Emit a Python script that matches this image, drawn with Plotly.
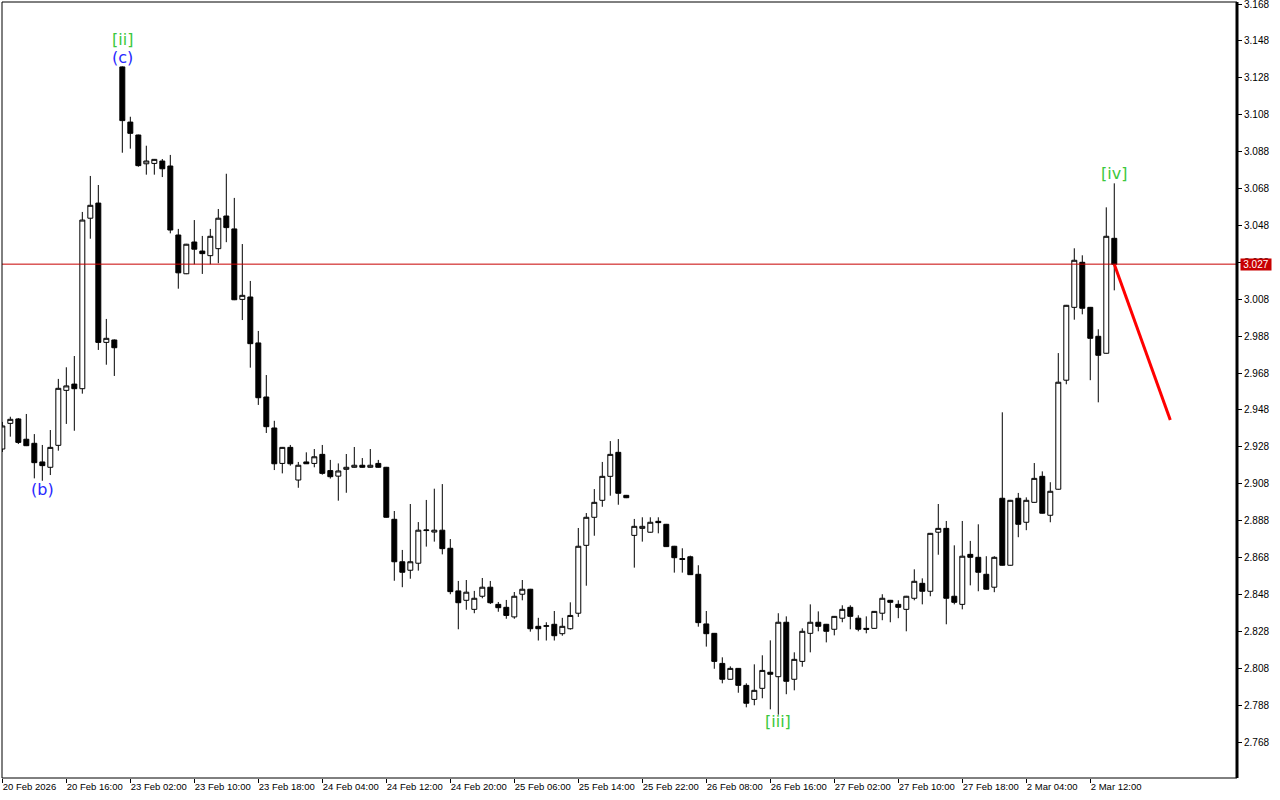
import plotly.graph_objects as go

# ---- data (H1 bars) ----
opens = [2.9268, 2.9407, 2.9431, 2.9321, 2.9299, 2.9198, 2.9169, 2.9288, 2.9586, 2.9620,
         2.9595, 3.0519, 3.0601, 2.9846, 2.9859, 3.1339, 3.1040, 3.0970, 3.0814, 3.0816,
         3.0829, 3.0802, 3.0428, 3.0218, 3.0390, 3.0341, 3.0316, 3.0354, 3.0531, 3.0461,
         3.0079, 3.0092, 2.9843, 2.9550, 2.9382, 2.9190, 2.9277, 2.9100, 2.9198, 2.9190,
         2.9239, 2.9151, 2.9121, 2.9158, 2.9169, 2.9180, 2.9169, 2.9190, 2.9169, 2.8887,
         2.8657, 2.8611, 2.8649, 2.8826, 2.8818, 2.8828, 2.8730, 2.8499, 2.8448, 2.8399,
         2.8470, 2.8519, 2.8426, 2.8410, 2.8358, 2.8481, 2.8508, 2.8307, 2.8307, 2.8318,
         2.8267, 2.8294, 2.8378, 2.8746, 2.8898, 2.8990, 2.9120, 2.9250, 2.9017, 2.8800,
         2.8838, 2.8817, 2.8876, 2.8860, 2.8741, 2.8674, 2.8684, 2.8589, 2.8320, 2.8269,
         2.8106, 2.8020, 2.8079, 2.7987, 2.7911, 2.7971, 2.8058, 2.8034, 2.8329, 2.8020,
         2.8117, 2.8269, 2.8329, 2.8318, 2.8291, 2.8351, 2.8410, 2.8351, 2.8296, 2.8296,
         2.8378, 2.8448, 2.8426, 2.8399, 2.8459, 2.8540, 2.8497, 2.8817, 2.8838, 2.8470,
         2.8426, 2.8697, 2.8681, 2.8589, 2.8519, 2.9001, 2.8638, 2.9001, 2.8871, 2.8979,
         2.9120, 2.8909, 2.9050, 2.9641, 3.0036, 3.0280, 3.0036, 2.9879, 2.9787, 3.0410]
highs = [2.9415, 2.9443, 2.9436, 2.9458, 2.9349, 2.9290, 2.9371, 2.9648, 2.9711, 2.9772,
         3.0553, 3.0748, 3.0699, 2.9973, 2.9862, 3.1342, 3.1069, 3.0972, 3.0912, 3.0840,
         3.0840, 3.0862, 3.0461, 3.0380, 3.0509, 3.0423, 3.0461, 3.0569, 3.0760, 3.0629,
         3.0379, 3.0179, 2.9908, 2.9669, 2.9421, 2.9279, 2.9290, 2.9198, 2.9250, 2.9268,
         2.9290, 2.9209, 2.9190, 2.9241, 2.9279, 2.9219, 2.9268, 2.9209, 2.9171, 2.8932,
         2.8721, 2.8970, 2.8872, 2.8992, 2.9053, 2.9078, 2.8780, 2.8553, 2.8558, 2.8499,
         2.8569, 2.8553, 2.8439, 2.8450, 2.8493, 2.8558, 2.8510, 2.8353, 2.8329, 2.8390,
         2.8353, 2.8437, 2.8840, 2.8921, 2.9051, 2.9198, 2.9311, 2.9322, 2.9019, 2.8889,
         2.8898, 2.8898, 2.8898, 2.8862, 2.8743, 2.8730, 2.8690, 2.8638, 2.8390, 2.8271,
         2.8139, 2.8090, 2.8081, 2.7998, 2.8101, 2.8150, 2.8231, 2.8378, 2.8361, 2.8166,
         2.8296, 2.8426, 2.8388, 2.8320, 2.8363, 2.8421, 2.8421, 2.8367, 2.8361, 2.8390,
         2.8481, 2.8450, 2.8448, 2.8472, 2.8616, 2.8567, 2.8813, 2.8970, 2.8878, 2.8746,
         2.8878, 2.8770, 2.8860, 2.8687, 2.8687, 2.9467, 2.8992, 2.9030, 2.9006, 2.9192,
         2.9147, 2.9088, 2.9788, 3.0049, 3.0356, 3.0318, 3.0038, 2.9917, 3.0578, 3.0708]
lows = [2.9252, 2.9335, 2.9295, 2.9284, 2.9109, 2.9096, 2.9127, 2.9259, 2.9404, 2.9367,
        2.9568, 3.0408, 2.9805, 2.9725, 2.9664, 3.0874, 3.0896, 3.0798, 3.0755, 3.0755,
        3.0742, 3.0437, 3.0137, 3.0216, 3.0269, 3.0217, 3.0269, 3.0275, 3.0389, 3.0075,
        2.9967, 2.9709, 2.9507, 2.9355, 2.9154, 2.9136, 2.9178, 2.9058, 2.9187, 2.9169,
        2.9129, 2.9108, 2.8988, 2.9031, 2.9167, 2.9167, 2.9167, 2.9167, 2.8896, 2.8554,
        2.8519, 2.8565, 2.8609, 2.8739, 2.8766, 2.8697, 2.8481, 2.8291, 2.8397, 2.8378,
        2.8459, 2.8428, 2.8386, 2.8348, 2.8348, 2.8448, 2.8278, 2.8230, 2.8230, 2.8230,
        2.8256, 2.8289, 2.8358, 2.8527, 2.8798, 2.8955, 2.9015, 2.8966, 2.9002, 2.8625,
        2.8766, 2.8815, 2.8811, 2.8737, 2.8598, 2.8598, 2.8585, 2.8305, 2.8197, 2.8077,
        2.7998, 2.8018, 2.7947, 2.7868, 2.7879, 2.7917, 2.7857, 2.7828, 2.7939, 2.7960,
        2.8088, 2.8166, 2.8280, 2.8220, 2.8258, 2.8329, 2.8291, 2.8280, 2.8269, 2.8294,
        2.8340, 2.8329, 2.8351, 2.8280, 2.8448, 2.8426, 2.8470, 2.8695, 2.8318, 2.8426,
        2.8399, 2.8529, 2.8497, 2.8506, 2.8492, 2.8636, 2.8636, 2.8790, 2.8828, 2.8977,
        2.8918, 2.8871, 2.9048, 2.9619, 2.9969, 2.9998, 2.9641, 2.9521, 2.9785, 3.0128]
closes = [2.9393, 2.9429, 2.9304, 2.9286, 2.9194, 2.9178, 2.9277, 2.9597, 2.9610, 2.9595,
          3.0509, 3.0589, 2.9846, 2.9868, 2.9817, 3.1048, 3.0979, 3.0804, 3.0829, 3.0838,
          3.0787, 3.0455, 3.0223, 3.0378, 3.0351, 3.0327, 3.0421, 3.0519, 3.0468, 3.0077,
          3.0101, 2.9839, 2.9546, 2.9389, 2.9188, 2.9277, 2.9188, 2.9180, 2.9188, 2.9226,
          2.9136, 2.9118, 2.9149, 2.9169, 2.9180, 2.9169, 2.9180, 2.9169, 2.8898, 2.8657,
          2.8600, 2.8657, 2.8828, 2.8829, 2.8828, 2.8728, 2.8495, 2.8435, 2.8492, 2.8459,
          2.8519, 2.8435, 2.8408, 2.8366, 2.8470, 2.8508, 2.8294, 2.8294, 2.8310, 2.8256,
          2.8307, 2.8366, 2.8741, 2.8898, 2.8979, 2.9120, 2.9239, 2.9028, 2.9004, 2.8849,
          2.8849, 2.8871, 2.8869, 2.8739, 2.8679, 2.8670, 2.8587, 2.8327, 2.8267, 2.8117,
          2.8020, 2.8079, 2.7987, 2.7890, 2.7960, 2.8068, 2.8047, 2.8329, 2.8009, 2.8128,
          2.8280, 2.8329, 2.8307, 2.8280, 2.8361, 2.8399, 2.8361, 2.8291, 2.8291, 2.8388,
          2.8459, 2.8437, 2.8410, 2.8470, 2.8551, 2.8497, 2.8811, 2.8838, 2.8459, 2.8437,
          2.8687, 2.8681, 2.8600, 2.8508, 2.8681, 2.8638, 2.8990, 2.8860, 2.8990, 2.9109,
          2.8920, 2.9039, 2.9630, 3.0047, 3.0291, 3.0031, 2.9868, 2.9776, 3.0421, 3.0269]
bars = list(range(len(opens)))

tick_bars = [0, 8, 16, 24, 32, 40, 48, 56, 64, 72, 80, 88, 96, 104, 112, 120, 128, 136]
tick_labels = ["20 Feb 2026", "20 Feb 16:00", "23 Feb 02:00", "23 Feb 10:00", "23 Feb 18:00",
               "24 Feb 04:00", "24 Feb 12:00", "24 Feb 20:00", "25 Feb 06:00", "25 Feb 14:00",
               "25 Feb 22:00", "26 Feb 08:00", "26 Feb 16:00", "27 Feb 02:00", "27 Feb 10:00",
               "27 Feb 18:00", "2 Mar 04:00", "2 Mar 12:00"]
price_ticks = [round(2.768 + 0.02 * i, 3) for i in range(21)]
price_labels = ["%.3f" % p for p in price_ticks]

current_price = 3.027
forecast_x = [139, 146]
forecast_y = [3.027, 2.9425]

wave_text = ["[ii]", "(c)", "(b)", "[iii]", "[iv]"]
wave_x = [15, 15, 5, 97, 139]
wave_y = [3.1490, 3.1388, 2.9051, 2.7789, 3.0759]
wave_color = ["#3CC83C", "#2828FF", "#2828FF", "#3CC83C", "#3CC83C"]

# ---- figure ----
fig = go.Figure()
fig.add_trace(go.Candlestick(
    x=bars, open=opens, high=highs, low=lows, close=closes,
    increasing=dict(line=dict(color="black", width=1), fillcolor="white"),
    decreasing=dict(line=dict(color="black", width=1), fillcolor="black"),
    whiskerwidth=0, showlegend=False, hoverinfo="skip",
))
fig.add_trace(go.Scatter(
    x=forecast_x, y=forecast_y, mode="lines",
    line=dict(color="#FF0000", width=3), showlegend=False, hoverinfo="skip",
))

fig.add_shape(type="line", xref="paper", x0=0, x1=1, yref="y",
              y0=current_price, y1=current_price, line=dict(color="#C80000", width=1))
# frame
fig.add_shape(type="rect", xref="paper", yref="paper", x0=0, x1=1, y0=0, y1=1,
              line=dict(color="black", width=1))
fig.add_shape(type="line", xref="paper", yref="paper", x0=1, x1=1, y0=0, y1=1,
              line=dict(color="black", width=3))

for t, x, y, c in zip(wave_text, wave_x, wave_y, wave_color):
    fig.add_annotation(x=x, y=y, text=t, showarrow=False,
                       font=dict(family="DejaVu Sans", size=16, color=c))

fig.add_annotation(xref="paper", x=1, xanchor="left", xshift=3, y=current_price, yref="y",
                   text="%.3f" % current_price, showarrow=False, bgcolor="#C80000",
                   width=30, height=11, align="center", valign="middle",
                   borderpad=0, font=dict(family="Liberation Sans", size=10, color="white"))

fig.update_layout(
    width=1280, height=800,
    margin=dict(l=2, r=43, t=2, b=22, autoexpand=False),
    paper_bgcolor="white", plot_bgcolor="white",
    boxgap=0.38, boxgroupgap=0,
    xaxis=dict(range=[-0.04, 154.34], rangeslider=dict(visible=False), automargin=False,
               tickmode="array", tickvals=tick_bars, ticktext=tick_labels, tickangle=0,
               ticks="outside", ticklen=4, tickcolor="black",
               ticklabelposition="outside right", ticklabeloverflow="allow",
               showgrid=False, zeroline=False, showline=False,
               tickfont=dict(family="Liberation Sans", size=9.5, color="black")),
    yaxis=dict(range=[2.74849, 3.16909], side="right", automargin=False,
               tickmode="array", tickvals=price_ticks, ticktext=price_labels,
               ticks="outside", ticklen=4, tickcolor="black", ticklabeloverflow="allow",
               showgrid=False, zeroline=False, showline=False,
               tickfont=dict(family="Liberation Sans", size=10, color="black")),
)

fig.write_html("out.html", config={"displayModeBar": False},
               post_script="document.body.style.margin='0';document.body.style.overflow='hidden';")
